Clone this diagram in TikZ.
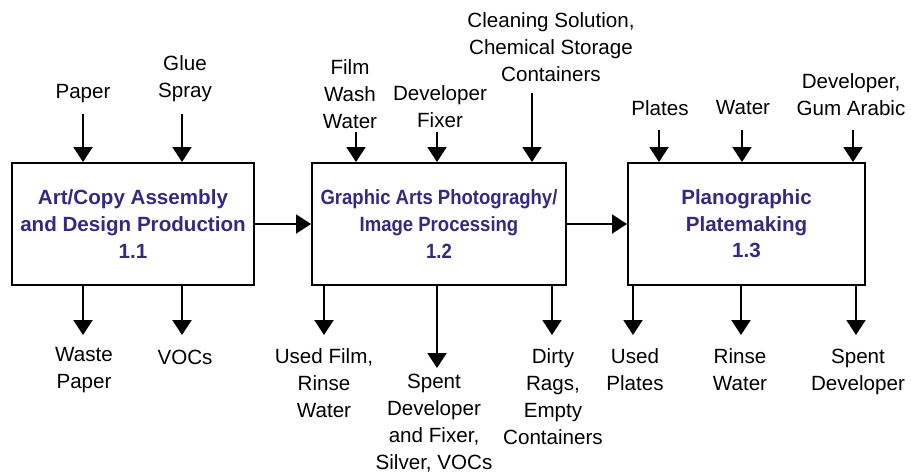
\documentclass[tikz,border=0pt]{standalone}
\usepackage{fontspec}
\setmainfont{Liberation Sans}
\newfontfamily\narrowsans[FakeStretch=0.9]{Liberation Sans}
\usetikzlibrary{arrows.meta,positioning}
\definecolor{procblue}{RGB}{55,40,130}

\begin{document}
\begin{tikzpicture}[x=0.5pt,y=-0.5pt,
  process/.style={rectangle, draw, line width=1pt, minimum height=61pt, align=center, inner sep=0pt,
    text=procblue, font=\bfseries\fontsize{10.3}{13.3}\selectfont},
  stream/.style={align=center, inner sep=0pt, yshift=-1pt, font=\fontsize{10.3}{13.5}\selectfont},
  flow/.style={-{Triangle[length=7.5pt,width=9.5pt]}, line width=1pt}]
\useasboundingbox (0,0) rectangle (911,472);

% process boxes
\node[process, minimum width=121pt] (art) at (133,224) {Art/Copy Assembly\\and Design Production\\1.1};
\node[process, minimum width=127pt, font=\narrowsans\bfseries\fontsize{10.3}{13.4}\selectfont] (photo) at (439,224) {Graphic Arts Photograghy/\\Image Processing\\1.2};
\node[process, minimum width=118.5pt] (plate) at (746.5,224) {Planographic\\Platemaking\\1.3};

\draw[flow] (art) -- (photo);
\draw[flow] (photo) -- (plate);

% inputs
\node[stream] (paper) at (83,92) {Paper};
\node[stream] (glue) at (185,77) {Glue\\Spray};
\node[stream] (film) at (350,92) {Film\\Wash\\Water};
\node[stream] (devfix) at (440,105) {Developer\\Fixer};
\node[stream] (clean) at (551,45) {Cleaning Solution,\\Chemical Storage\\Containers};
\node[stream] (plates) at (660,106) {Plates};
\node[stream] (water) at (743,106) {Water};
\node[stream] (gum) at (851,93) {Developer,\\Gum Arabic};

\coordinate (paperin) at (83,114);
\coordinate (gluein) at (182,114);
\coordinate (filmin) at (356,132);
\coordinate (devfixin) at (437,132);
\coordinate (cleanin) at (532,93);
\coordinate (platesin) at (659,130);
\coordinate (waterin) at (742,130);
\coordinate (gumin) at (853,130);

\draw[flow] (paperin) -- (paperin |- art.north);
\draw[flow] (gluein) -- (gluein |- art.north);
\draw[flow] (filmin) -- (filmin |- photo.north);
\draw[flow] (devfixin) -- (devfixin |- photo.north);
\draw[flow] (cleanin) -- (cleanin |- photo.north);
\draw[flow] (platesin) -- (platesin |- plate.north);
\draw[flow] (waterin) -- (waterin |- plate.north);
\draw[flow] (gumin) -- (gumin |- plate.north);

% outputs
\node[stream] (waste) at (84,368) {Waste\\Paper};
\node[stream] (vocs) at (185,355) {VOCs};
\node[stream] (usedfilm) at (324,381) {Used Film,\\Rinse\\Water};
\node[stream] (spent) at (434,421) {Spent\\Developer\\and Fixer,\\Silver, VOCs};
\node[stream] (rags) at (553,395) {Dirty\\Rags,\\Empty\\Containers};
\node[stream] (usedplates) at (635,368) {Used\\Plates};
\node[stream] (rinse) at (740,368) {Rinse\\Water};
\node[stream] (spentdev) at (858,370) {Spent\\Developer};

\coordinate (wasteout) at (83,335);
\coordinate (vocsout) at (182,335);
\coordinate (usedfilmout) at (324,335);
\coordinate (spentout) at (437,368);
\coordinate (ragsout) at (552,335);
\coordinate (usedplatesout) at (633,335);
\coordinate (rinseout) at (741,335);
\coordinate (spentdevout) at (856,335);

\draw[flow] (wasteout |- art.south) -- (wasteout);
\draw[flow] (vocsout |- art.south) -- (vocsout);
\draw[flow] (usedfilmout |- photo.south) -- (usedfilmout);
\draw[flow] (spentout |- photo.south) -- (spentout);
\draw[flow] (ragsout |- photo.south) -- (ragsout);
\draw[flow] (usedplatesout |- plate.south) -- (usedplatesout);
\draw[flow] (rinseout |- plate.south) -- (rinseout);
\draw[flow] (spentdevout |- plate.south) -- (spentdevout);
\end{tikzpicture}
\end{document}
